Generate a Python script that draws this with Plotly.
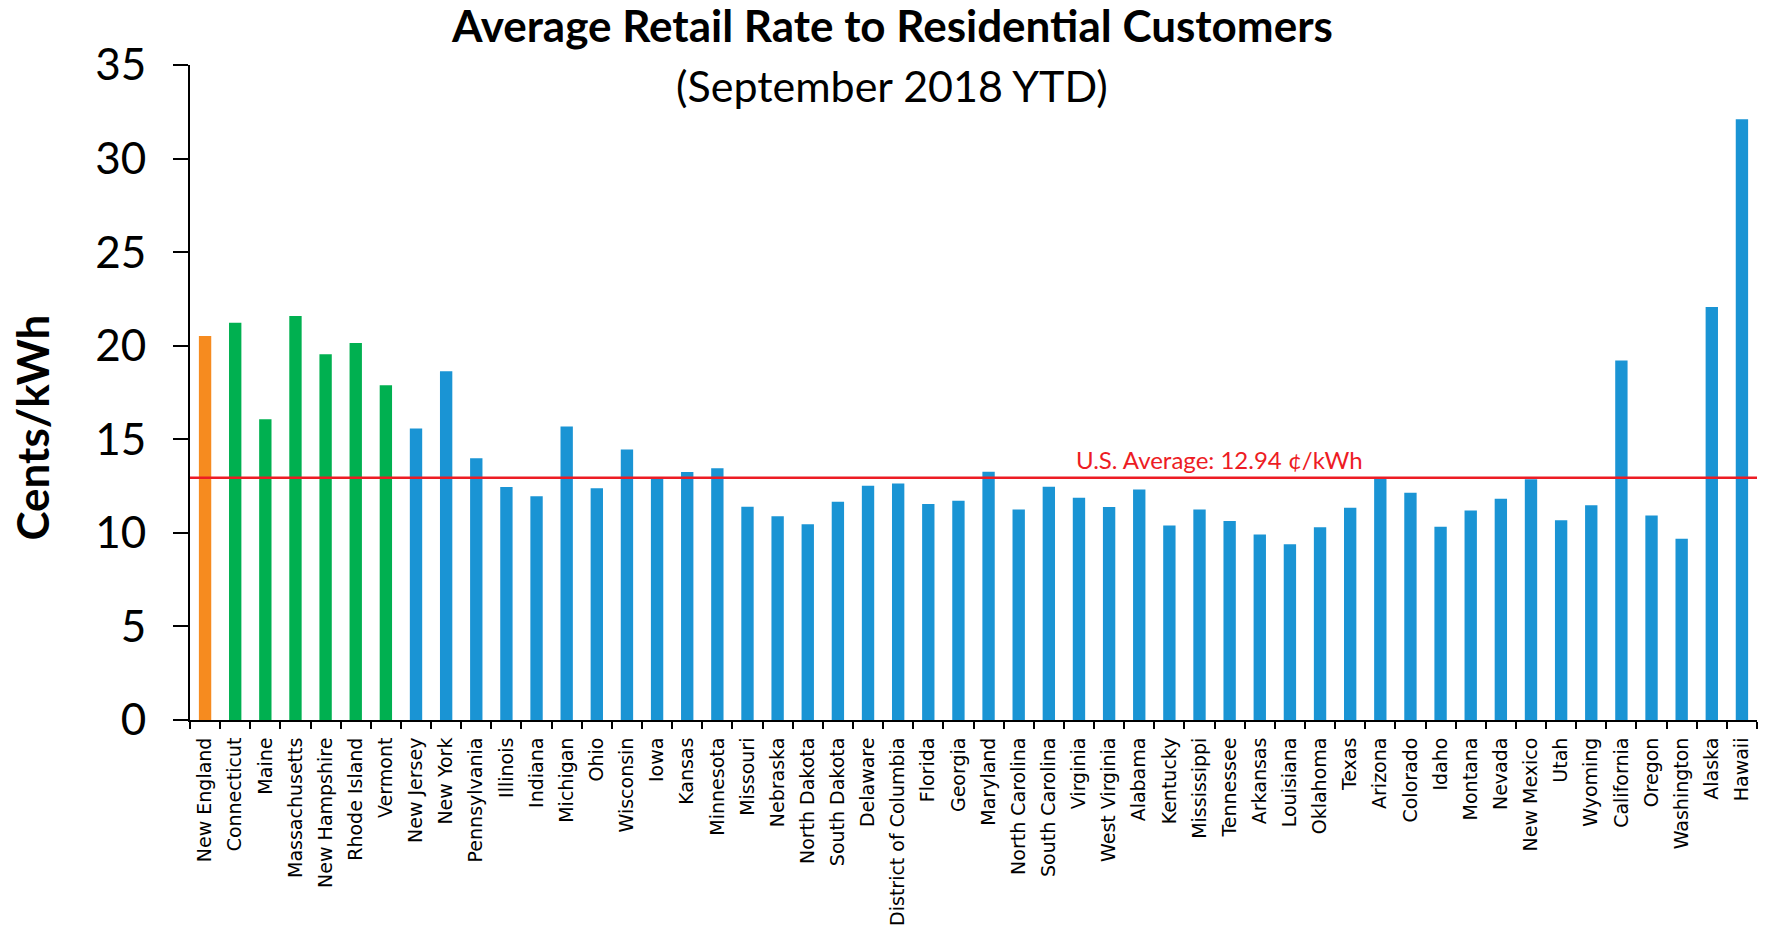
import plotly.graph_objects as go

states = ["New England", "Connecticut", "Maine", "Massachusetts", "New Hampshire",
          "Rhode Island", "Vermont", "New Jersey", "New York", "Pennsylvania",
          "Illinois", "Indiana", "Michigan", "Ohio", "Wisconsin", "Iowa", "Kansas",
          "Minnesota", "Missouri", "Nebraska", "North Dakota", "South Dakota",
          "Delaware", "District of Columbia", "Florida", "Georgia", "Maryland",
          "North Carolina", "South Carolina", "Virginia", "West Virginia", "Alabama",
          "Kentucky", "Mississippi", "Tennessee", "Arkansas", "Louisiana", "Oklahoma",
          "Texas", "Arizona", "Colorado", "Idaho", "Montana", "Nevada", "New Mexico",
          "Utah", "Wyoming", "California", "Oregon", "Washington", "Alaska", "Hawaii"]

rates = [20.52, 21.23, 16.07, 21.59, 19.55, 20.14, 17.89, 15.57, 18.63, 13.98,
         12.45, 11.96, 15.68, 12.38, 14.46, 12.91, 13.25, 13.45, 11.39, 10.89,
         10.46, 11.66, 12.52, 12.64, 11.54, 11.71, 13.27, 11.25, 12.46, 11.88,
         11.38, 12.32, 10.39, 11.25, 10.63, 9.91, 9.39, 10.30, 11.34, 12.89,
         12.14, 10.32, 11.20, 11.82, 12.86, 10.68, 11.48, 19.21, 10.93, 9.68,
         22.07, 32.10]

groups = ["region"] + ["new_england"] * 6 + ["other"] * 45

us_average = 12.94
y_ticks = [0, 5, 10, 15, 20, 25, 30, 35]

group_colors = {"region": "#F68B1F", "new_england": "#00B050", "other": "#1A94D4"}
bar_colors = [group_colors[g] for g in groups]

fig = go.Figure()
fig.add_trace(go.Bar(x=states, y=rates, marker=dict(color=bar_colors, line=dict(width=0)),
                     showlegend=False))

fig.add_shape(type="line", xref="paper", yref="y", x0=0, x1=1, y0=us_average, y1=us_average,
              line=dict(color="#ED1C24", width=2.5))

fig.add_annotation(xref="paper", yref="y", x=0.657, y=us_average, yanchor="bottom", yshift=2,
                   text=f"U.S. Average: {us_average} ¢/kWh", showarrow=False,
                   font=dict(family="Lato", size=24, color="#ED1C24"))

fig.add_annotation(xref="paper", yref="paper", x=0.448, y=1.061, xanchor="center", yanchor="middle",
                   text="<b>Average Retail Rate to Residential Customers</b>", showarrow=False,
                   font=dict(family="Lato", size=44, color="black"))
fig.add_annotation(xref="paper", yref="paper", x=0.448, y=0.969, xanchor="center", yanchor="middle",
                   text="(September 2018 YTD)", showarrow=False,
                   font=dict(family="Lato", size=43, color="black"))
fig.add_annotation(xref="paper", yref="paper", x=-0.101, y=0.446, xanchor="center", yanchor="middle",
                   text="<b>Cents/kWh</b>", textangle=-90, showarrow=False,
                   font=dict(family="Lato", size=44, color="black"))

fig.update_layout(
    width=1768, height=933,
    margin=dict(l=190, r=11, t=65, b=213),
    paper_bgcolor="white", plot_bgcolor="white",
    bargap=0.59,
)
fig.update_xaxes(type="category", showline=True, linecolor="black", linewidth=2,
                 ticks="outside", tickson="boundaries", ticklen=7, tickwidth=2, tickcolor="black",
                 tickangle=-90, tickfont=dict(family="DejaVu Sans", size=19, color="black"),
                 ticklabelstandoff=8, showgrid=False, zeroline=False, automargin=False)
fig.update_yaxes(range=[0, 35], tickvals=y_ticks, showline=True, linecolor="black", linewidth=2,
                 ticks="outside", ticklen=15, tickwidth=2, tickcolor="black",
                 tickfont=dict(family="Lato", size=44, color="black"), ticklabelstandoff=18,
                 showgrid=False, zeroline=False, automargin=False)

fig.write_html("out.html")
